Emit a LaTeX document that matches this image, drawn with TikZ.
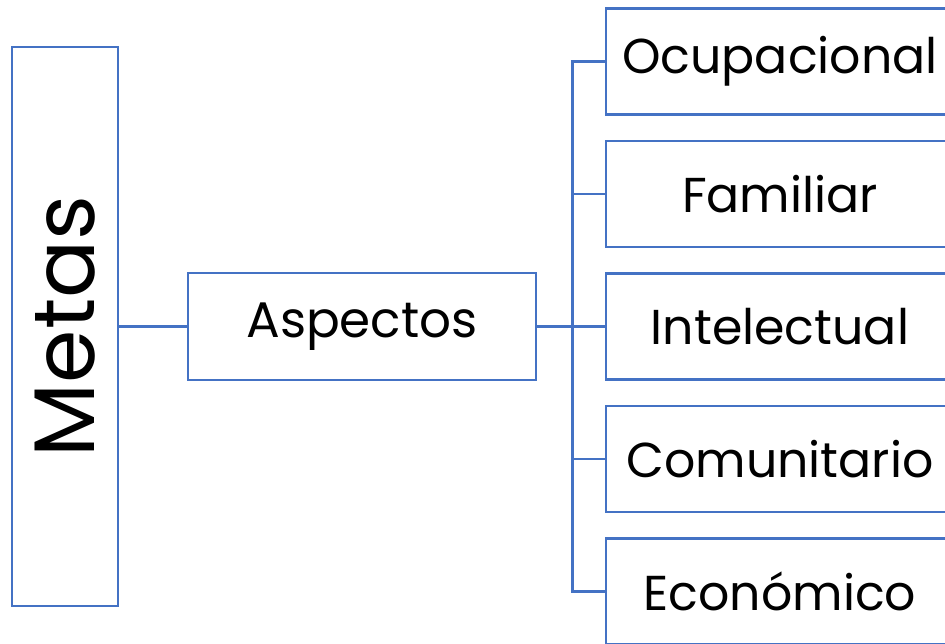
\documentclass[tikz,border=0pt]{standalone}
\usepackage{fontspec}
\setmainfont{Poppins}
\usetikzlibrary{positioning}
\definecolor{boxblue}{HTML}{4472C4}
\begin{document}
\begin{tikzpicture}[node distance=132.5pt,on grid,line width=2.8pt]
  \tikzstyle{nodeM}=[draw=boxblue,rotate=90,minimum width=559pt,minimum height=106pt,inner sep=0pt,font=\fontsize{86}{100}\selectfont]
  \tikzstyle{nodeA}=[draw=boxblue,minimum width=348pt,minimum height=107pt,inner sep=0pt,font=\fontsize{50}{60}\selectfont]
  \tikzstyle{nodeR}=[nodeA,minimum height=106pt,font=\fontsize{49}{60}\selectfont]
  \tikzstyle{link}=[draw=boxblue]

  \useasboundingbox (-65pt,326.5pt) rectangle (880pt,-317.5pt);

  \node[nodeM]          (metas)                          {Metas};
  \node[nodeA]          (aspectos) [right=297pt of metas] {Aspectos};
  \node[nodeR]          (intelectual) [right=418pt of aspectos] {Intelectual};
  \node[nodeR]          (familiar) [above=of intelectual] {Familiar};
  \node[nodeR]          (ocupacional) [above=of familiar] {Ocupacional};
  \node[nodeR]          (comunitario) [below=of intelectual] {Comunitario};
  \node[nodeR]          (economico) [below=of comunitario] {Económico};

  \coordinate[right=35pt of aspectos.east] (bus);

  \path[link] (metas) -- (aspectos);
  \path[link] (aspectos) -- (bus);
  \foreach \nodename in {ocupacional,familiar,intelectual,comunitario,economico}
    \path[link] (bus) |- (\nodename.west);
\end{tikzpicture}
\end{document}
